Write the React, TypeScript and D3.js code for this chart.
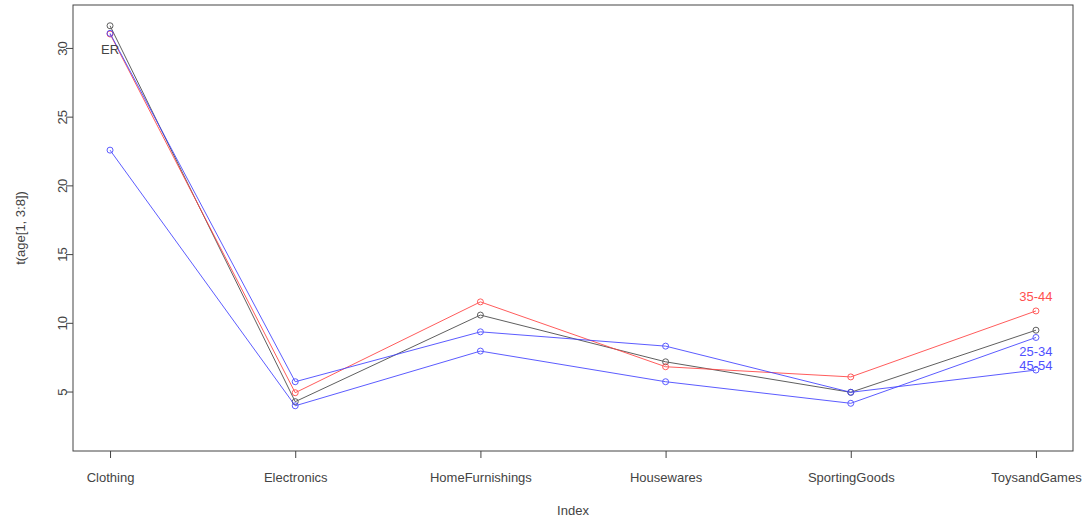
import { useEffect, useRef } from "react";
import * as d3 from "d3";

const categories = [
  "Clothing",
  "Electronics",
  "HomeFurnishings",
  "Housewares",
  "SportingGoods",
  "ToysandGames",
];

const erValues = [31.65, 4.3, 10.6, 7.2, 4.98, 9.5];
const age3544 = [31.05, 4.95, 11.56, 6.84, 6.1, 10.9];
const age2534 = [22.6, 4.0, 7.98, 5.75, 4.18, 8.97];
const age4554 = [31.1, 5.75, 9.38, 8.34, 4.98, 6.6];

const yTicks = [5, 10, 15, 20, 25, 30];

const series = [
  { name: "ER", values: erValues, color: "#444444" },
  { name: "35-44", values: age3544, color: "#ff4040" },
  { name: "25-34", values: age2534, color: "#4040ff" },
  { name: "45-54", values: age4554, color: "#4040ff" },
];

// labels as drawn by text() in the original plot
const labels = [
  { text: "ER", index: 1, value: 29.9, color: "#444444" },
  { text: "35-44", index: 6, value: 11.93, color: "#ff5050" },
  { text: "25-34", index: 6, value: 7.93, color: "#5050ff" },
  { text: "45-54", index: 6, value: 6.9, color: "#5050ff" },
];

const App = () => {
  const ref = useRef<SVGSVGElement>(null);

  useEffect(() => {
    const width = 1088;
    const height = 522;
    const margin = { top: 5, right: 15, bottom: 71, left: 73 };
    const font = "'Liberation Sans', Arial, sans-serif";
    const textColor = "#444";

    const svg = d3.select(ref.current);
    svg.selectAll("*").remove();

    const x = d3
      .scaleLinear()
      .domain([0.8, 6.2])
      .range([margin.left, width - margin.right]);
    const y = d3
      .scaleLinear()
      .domain([0.71, 33.16])
      .range([height - margin.bottom, margin.top]);

    svg
      .append("rect")
      .attr("x", margin.left)
      .attr("y", margin.top)
      .attr("width", width - margin.right - margin.left)
      .attr("height", height - margin.bottom - margin.top)
      .attr("fill", "none")
      .attr("stroke", "#444")
      .attr("stroke-width", 1);

    const xAxis = svg
      .append("g")
      .attr("transform", `translate(0,${height - margin.bottom})`)
      .call(
        d3
          .axisBottom(x)
          .tickValues(d3.range(1, 7))
          .tickFormat((d) => categories[+d - 1])
          .tickSize(7)
          .tickPadding(15)
      );
    xAxis.select(".domain").remove();
    xAxis.selectAll("line").attr("stroke", "#444");
    xAxis
      .selectAll("text")
      .attr("font-family", font)
      .attr("font-size", 13)
      .attr("fill", textColor);

    const yAxis = svg
      .append("g")
      .attr("transform", `translate(${margin.left},0)`)
      .call(d3.axisLeft(y).tickValues(yTicks).tickSize(7).tickPadding(0));
    yAxis.select(".domain").remove();
    yAxis.selectAll("line").attr("stroke", "#444");
    yAxis
      .selectAll("text")
      .attr("font-family", font)
      .attr("font-size", 13)
      .attr("fill", textColor)
      .attr("text-anchor", "middle")
      .attr("x", 0)
      .attr("dy", 0)
      .attr("transform", (d) => `translate(-11,${y(+d)}) rotate(-90)`)
      .attr("y", 0)
      .attr("dominant-baseline", "central");
    yAxis.selectAll(".tick").attr("transform", null);
    yAxis
      .selectAll(".tick line")
      .attr("transform", (d) => `translate(0,${y(+d)})`);

    svg
      .append("text")
      .attr("x", (margin.left + width - margin.right) / 2)
      .attr("y", 515)
      .attr("text-anchor", "middle")
      .attr("font-family", font)
      .attr("font-size", 13)
      .attr("fill", textColor)
      .text("Index");

    svg
      .append("text")
      .attr(
        "transform",
        `translate(25,${(margin.top + height - margin.bottom) / 2}) rotate(-90)`
      )
      .attr("text-anchor", "middle")
      .attr("font-family", font)
      .attr("font-size", 13)
      .attr("fill", textColor)
      .text("t(age[1, 3:8])");

    const line = d3
      .line<number>()
      .x((d, i) => x(i + 1))
      .y((d) => y(d));

    series.forEach((s) => {
      const g = svg.append("g").attr("opacity", 0.85);
      g.append("path")
        .attr("d", line(s.values))
        .attr("fill", "none")
        .attr("stroke", s.color)
        .attr("stroke-width", 1);
      g.selectAll("circle")
        .data(s.values)
        .join("circle")
        .attr("cx", (d, i) => x(i + 1))
        .attr("cy", (d) => y(d))
        .attr("r", 3)
        .attr("fill", "none")
        .attr("stroke", s.color)
        .attr("stroke-width", 1);
    });

    svg
      .append("g")
      .selectAll("text")
      .data(labels)
      .join("text")
      .attr("x", (d) => x(d.index))
      .attr("y", (d) => y(d.value))
      .attr("text-anchor", "middle")
      .attr("dominant-baseline", "central")
      .attr("font-family", font)
      .attr("font-size", 13)
      .attr("fill", (d) => d.color)
      .text((d) => d.text);
  }, []);

  return (
    <svg
      ref={ref}
      width={1088}
      height={522}
      style={{ display: "block", position: "absolute", left: 0, top: 0, background: "#fff" }}
    />
  );
};

export default App;
